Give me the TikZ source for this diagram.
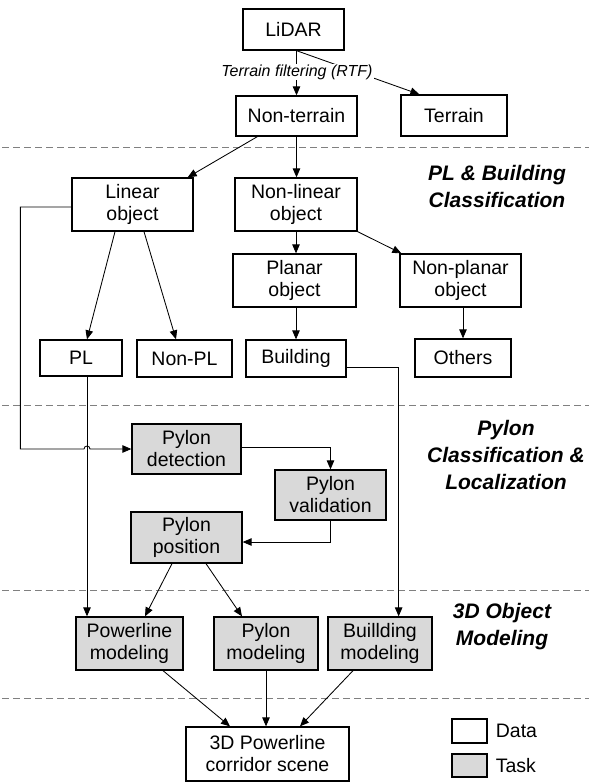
\documentclass[tikz,border=0pt]{standalone}
\usepackage{fontspec}
\setmainfont{Liberation Sans}
\usetikzlibrary{arrows.meta,calc}
\definecolor{taskgray}{RGB}{217,217,217}
\begin{document}
\begin{tikzpicture}[x=1pt,y=-1pt,
  box/.style={draw=black,line width=1.3pt,inner sep=0pt,align=center,font=\fontsize{19.5}{22}\selectfont},
  data/.style={box,fill=white},
  task/.style={box,fill=taskgray},
  conn/.style={line width=0.85pt,-{Triangle[length=9pt,width=7.5pt]}},
  plain/.style={line width=0.85pt},
  sep/.style={gray,line width=0.9pt,dash pattern=on 7pt off 4pt},
  section/.style={align=center,font=\fontsize{21}{27}\selectfont\bfseries\itshape}
]
\useasboundingbox (0,0) rectangle (589,784);

% separators
\draw[sep] (2,147) -- (589,147);
\draw[sep] (2,405) -- (589,405);
\draw[sep] (2,590) -- (589,590);
\draw[sep] (2,698) -- (589,698);

% data nodes
\node[data,minimum width=101pt,minimum height=41pt] (lidar) at (293.5,29.5) {LiDAR};
\node[data,minimum width=121pt,minimum height=40pt] (nt) at (296.5,116) {Non-terrain};
\node[data,minimum width=106pt,minimum height=41pt] (terrain) at (454,115.5) {Terrain};
\node[data,minimum width=121pt,minimum height=53pt] (linear) at (132.5,204.5) {Linear\\object};
\node[data,minimum width=122pt,minimum height=53pt] (nonlinear) at (296,204.5) {Non-linear\\object};
\node[data,minimum width=123pt,minimum height=53pt] (planar) at (294.5,280.5) {Planar\\object};
\node[data,minimum width=121pt,minimum height=53pt] (nonplanar) at (460.5,280.5) {Non-planar\\object};
\node[data,minimum width=82pt,minimum height=36pt] (pl) at (81,358) {PL};
\node[data,minimum width=95pt,minimum height=37pt] (nonpl) at (184.5,358.5) {Non-PL};
\node[data,minimum width=100pt,minimum height=37pt] (building) at (296,358.5) {Building};
\node[data,minimum width=96pt,minimum height=38pt] (others) at (463,358) {Others};

% task nodes
\node[task,minimum width=109pt,minimum height=50pt] (detect) at (186.5,449) {Pylon\\detection};
\node[task,minimum width=111pt,minimum height=50pt] (validation) at (330.5,495) {Pylon\\validation};
\node[task,minimum width=111pt,minimum height=51pt] (position) at (186.5,537.5) {Pylon\\position};
\node[task,minimum width=107pt,minimum height=53pt] (powerline) at (129.5,643.5) {Powerline\\modeling};
\node[task,minimum width=104pt,minimum height=53pt] (pmodel) at (266,643.5) {Pylon\\modeling};
\node[task,minimum width=104pt,minimum height=53pt] (bmodel) at (380,643.5) {Buillding\\modeling};
\node[data,minimum width=163pt,minimum height=54pt] (scene) at (267.5,754) {3D Powerline\\corridor scene};

% connectors
\draw[conn] (lidar.south -| nt.north) -- (nt.north);
\draw[conn] (lidar.south -| nt.north) -- ($(terrain.north west)+(19,0)$);
\node[font=\fontsize{16}{18}\selectfont\itshape,fill=white,inner sep=1pt] (tf) at ($(lidar.south)!0.5!(nt.north)+(2,-1)$) {Terrain filtering (RTF)};

\draw[conn] ($(nt.south west)+(22,0)$) -- ($(linear.north east)+(-6,0)$);
\draw[conn] (nt.south) -- (nt.south |- nonlinear.north);
\draw[conn] ($(linear.south)+(-17.5,0)$) -- ($(pl.north)+(6,0)$);
\draw[conn] ($(linear.south)+(11.5,0)$) -- ($(nonpl.north)+(-8.5,0)$);
\draw[conn] (nonlinear.south) -- (nonlinear.south |- planar.north);
\draw[conn] (nonlinear.south east) -- ($(nonplanar.north west)+(2,0)$);
\draw[conn] (planar.south -| nonlinear.south) -- (nonlinear.south |- building.north);
\draw[conn] (others.north |- nonplanar.south) -- (others.north);

% PL down to powerline modeling
\draw[conn] ($(pl.south)+(6,0)$) coordinate (plb) -- (plb |- powerline.north);
% linear object to pylon detection, hopping over PL line
\draw[conn] ($(linear.west)+(0,2.5)$) -- ++(-51,0) coordinate (lk) -- (lk |- detect.west)
  -- ($(plb |- detect.west)+(-3,0)$) arc[start angle=180,end angle=0,radius=3pt] -- (detect.west);
% building to building modeling
\draw[conn] ($(building.east)+(0,8.5)$) -- ++(52,0) coordinate (bk) -- (bk |- bmodel.north);

\draw[conn] ($(detect.east)+(0,-2)$) -| (validation.north);
\draw[conn] (validation.south) |- ($(position.east)+(0,4.5)$);
\draw[conn] ($(position.south)+(-14.5,0)$) -- ($(powerline.north)+(15.5,0)$);
\draw[conn] ($(position.south)+(19.5,0)$) -- ($(pmodel.north)+(-24,0)$);

\draw[conn] ($(powerline.south)+(33.5,0)$) -- ($(scene.north)+(-37.5,0)$);
\draw[conn] (pmodel.south) -- (pmodel.south |- scene.north);
\draw[conn] ($(bmodel.south)+(-27,0)$) -- ($(scene.north)+(32.5,0)$);

% section labels
\node[section] (s1) at (497,186) {PL \& Building\\Classification};
\node[section] (s2) at (506,455) {Pylon\\Classification \&\\Localization};
\node[section] (s3) at (502,627) {3D Object\\Modeling};

% legend
\node[data,minimum width=35pt,minimum height=24pt] (ld) at (469.5,731) {};
\node[anchor=west,inner sep=0pt,font=\fontsize{19.5}{22}\selectfont] (ldt) at ($(ld.east)+(8,0)$) {Data};
\node[task,minimum width=35pt,minimum height=23pt] (lt) at (469.5,765.5) {};
\node[anchor=west,inner sep=0pt,font=\fontsize{19.5}{22}\selectfont] (ltt) at ($(lt.east)+(8,0)$) {Task};
\end{tikzpicture}
\end{document}
